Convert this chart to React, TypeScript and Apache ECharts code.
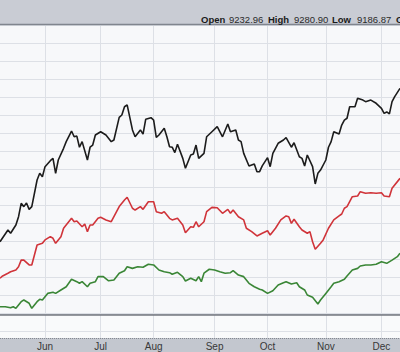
import React, { useEffect, useRef } from "react";
import * as echarts from "echarts";

// Trading-day index of each month start (x axis spans trading days 0..151)
const monthDays = [17, 38, 58, 81, 101, 123, 144];
const monthLabels = ["Jun", "Jul", "Aug", "Sep", "Oct", "Nov", "Dec"];

// Header quote
const quoteLabels = ["Open", "High", "Low", "C"];
const quoteValues = ["9232.96", "9280.90", "9186.87", ""];

// Series (values in gridline units)
const blackDays = [0, 3, 4, 6, 7, 8, 9, 10, 11, 12, 14, 15, 16, 17, 19, 20, 21, 22, 24, 25, 27, 28, 29, 30, 31, 33, 34, 35, 36, 38, 40, 42, 43, 45, 46, 47, 48, 50, 51, 53, 54, 55, 57, 58, 59, 60, 62, 63, 64, 65, 66, 67, 69, 70, 72, 73, 74, 75, 77, 78, 80, 82, 84, 86, 87, 89, 90, 91, 92, 94, 96, 97, 98, 99, 101, 102, 103, 105, 107, 108, 110, 111, 113, 114, 115, 116, 118, 119, 120, 121, 123, 124, 125, 126, 128, 129, 130, 131, 132, 134, 135, 137, 138, 140, 142, 144, 145, 146, 147, 148, 149, 151];
const blackValues = [3.96, 4.61, 4.43, 4.89, 5.35, 6.09, 5.91, 6.11, 5.76, 5.91, 7.39, 7.76, 7.57, 8.13, 8.46, 8.59, 7.76, 8.5, 9.15, 9.52, 10.11, 9.79, 9.83, 9.21, 9.52, 8.5, 9.21, 9.33, 9.89, 10.07, 9.89, 9.52, 9.61, 10.87, 11.0, 11.46, 11.56, 10.17, 9.79, 10.17, 9.94, 10.76, 10.85, 10.72, 9.76, 9.89, 10.26, 9.79, 9.24, 9.21, 8.91, 9.37, 8.59, 8.04, 8.78, 8.83, 9.33, 8.59, 8.87, 9.79, 10.07, 10.35, 9.79, 10.5, 10.07, 10.17, 9.61, 9.52, 8.87, 8.17, 8.28, 7.85, 7.85, 8.17, 8.63, 8.13, 8.87, 9.43, 9.61, 9.74, 9.21, 9.46, 8.68, 8.59, 8.17, 8.78, 8.13, 7.17, 7.76, 7.94, 8.5, 9.21, 9.52, 10.07, 9.94, 10.44, 10.72, 10.82, 11.46, 11.46, 11.93, 11.83, 11.74, 11.83, 11.65, 11.37, 11.09, 11.17, 11.06, 11.74, 12.02, 12.48];

const redDays = [0, 1, 3, 4, 6, 7, 8, 9, 11, 12, 14, 16, 17, 19, 20, 21, 23, 24, 27, 28, 29, 31, 32, 33, 34, 35, 37, 38, 40, 42, 44, 45, 47, 48, 50, 51, 53, 54, 56, 58, 59, 61, 62, 64, 65, 67, 69, 70, 72, 73, 74, 75, 77, 78, 80, 82, 84, 86, 87, 88, 90, 92, 93, 95, 97, 99, 101, 102, 104, 106, 108, 109, 110, 111, 113, 114, 116, 117, 118, 119, 121, 122, 124, 126, 128, 129, 130, 131, 133, 135, 136, 138, 140, 142, 144, 145, 147, 148, 151];
const redValues = [1.93, 2.06, 2.21, 2.29, 2.39, 2.57, 2.94, 2.94, 2.67, 2.67, 3.78, 3.87, 4.06, 4.24, 4.15, 3.87, 4.24, 4.71, 5.26, 5.07, 5.11, 4.79, 4.94, 4.52, 4.89, 4.89, 5.26, 5.32, 5.17, 5.07, 5.63, 5.91, 6.28, 6.43, 5.82, 5.72, 5.91, 5.76, 6.18, 6.18, 5.63, 5.54, 5.63, 5.26, 5.17, 5.26, 4.89, 4.46, 4.79, 4.76, 5.07, 4.79, 5.07, 5.63, 5.87, 5.85, 5.54, 5.76, 5.54, 5.72, 5.35, 5.17, 4.71, 4.52, 4.28, 4.43, 4.57, 4.33, 4.71, 5.17, 5.39, 5.35, 4.98, 5.21, 4.79, 4.61, 4.43, 4.52, 3.96, 3.54, 3.87, 4.06, 4.71, 5.17, 5.39, 5.5, 5.82, 5.91, 6.46, 6.5, 6.74, 6.65, 6.68, 6.65, 6.68, 6.5, 6.46, 6.93, 7.48];

const greenDays = [0, 2, 4, 5, 6, 8, 9, 11, 12, 14, 15, 16, 18, 20, 21, 23, 25, 27, 29, 30, 31, 33, 34, 36, 37, 39, 41, 43, 45, 47, 48, 50, 52, 54, 56, 58, 60, 62, 64, 65, 67, 69, 70, 72, 74, 75, 76, 77, 79, 81, 83, 85, 87, 88, 90, 92, 94, 96, 98, 99, 101, 103, 105, 107, 108, 110, 112, 113, 115, 116, 118, 120, 121, 123, 125, 126, 128, 130, 131, 133, 135, 136, 138, 140, 142, 144, 146, 148, 150, 151];
const greenValues = [0.35, 0.35, 0.29, 0.35, 0.26, 0.63, 0.72, 0.54, 0.26, 0.63, 0.76, 0.72, 1.09, 1.15, 1.09, 1.28, 1.46, 1.87, 1.74, 1.65, 1.74, 1.46, 1.65, 1.74, 2.02, 2.02, 1.79, 1.83, 2.21, 2.35, 2.57, 2.48, 2.57, 2.54, 2.71, 2.67, 2.39, 2.29, 2.24, 2.15, 2.26, 2.02, 1.78, 1.93, 1.79, 2.02, 1.74, 2.21, 2.43, 2.39, 2.29, 2.21, 2.24, 2.35, 2.11, 2.02, 1.65, 1.46, 1.32, 1.28, 1.09, 1.24, 1.56, 1.68, 1.74, 1.61, 1.68, 1.46, 1.28, 1.0, 0.87, 0.5, 0.72, 1.09, 1.46, 1.65, 1.74, 1.87, 2.06, 2.39, 2.48, 2.61, 2.67, 2.67, 2.71, 2.85, 2.76, 2.94, 3.13, 3.32];

const pair = (days: number[], vals: number[]) => days.map((d, i) => [d, vals[i]]);

const GRID_COLOR = "#dde0e6";
const FONT = "Liberation Sans, Arial, sans-serif";

export default function App() {
  const ref = useRef<HTMLDivElement>(null);

  useEffect(() => {
    if (!ref.current) return;
    const chart = echarts.init(ref.current, undefined, { renderer: "svg" });

    const quoteX = [201, 268, 332, 396];
    const valueX = [229, 294, 357, 0];
    const headerTexts: any[] = [];
    quoteLabels.forEach((l, i) => {
      headerTexts.push({
        type: "text",
        x: quoteX[i],
        y: 19,
        z: 20,
        style: { text: l, font: `bold 9.5px ${FONT}`, fill: "#1a1a1a", textVerticalAlign: "middle" },
      });
      if (quoteValues[i]) {
        headerTexts.push({
          type: "text",
          x: valueX[i],
          y: 19,
          z: 20,
          style: { text: quoteValues[i], font: `9.5px ${FONT}`, fill: "#2a2a2a", textVerticalAlign: "middle" },
        });
      }
    });

    const line = (name: string, days: number[], vals: number[], color: string) => ({
      name,
      type: "line",
      xAxisIndex: 0,
      yAxisIndex: 0,
      data: pair(days, vals),
      showSymbol: false,
      symbol: "none",
      lineStyle: { color, width: 1.6 },
      z: 5,
    });

    chart.setOption({
      animation: false,
      backgroundColor: "#c3c7cf",
      grid: [
        { left: 0, right: 0, top: 25, height: 288, show: true, backgroundColor: "#f7f8fa", borderWidth: 0 },
        { left: 0, right: 0, top: 315, height: 23, show: true, backgroundColor: "#f9fafb", borderWidth: 0 },
      ],
      xAxis: [
        {
          type: "value",
          gridIndex: 0,
          min: 0,
          max: 151,
          axisLine: { show: false },
          axisTick: { show: false, customValues: monthDays },
          axisLabel: { show: false, customValues: monthDays },
          splitLine: { show: true, lineStyle: { color: GRID_COLOR, width: 1 } },
        },
        {
          type: "value",
          gridIndex: 1,
          min: 0,
          max: 151,
          axisLine: { show: false },
          axisTick: { show: false, customValues: monthDays },
          axisLabel: {
            show: true,
            customValues: monthDays,
            formatter: (v: number) => monthLabels[monthDays.indexOf(v)] ?? "",
            color: "#383838",
            fontSize: 10,
            fontFamily: FONT,
            margin: 3,
          },
          splitLine: { show: true, lineStyle: { color: GRID_COLOR, width: 1 } },
        },
      ],
      yAxis: [
        {
          type: "value",
          gridIndex: 0,
          min: 0,
          max: 16,
          interval: 1,
          axisLine: { show: false },
          axisTick: { show: false },
          axisLabel: { show: false },
          splitLine: { show: true, lineStyle: { color: GRID_COLOR, width: 1 } },
        },
        {
          type: "value",
          gridIndex: 1,
          min: 0,
          max: 1,
          axisLine: { show: false },
          axisTick: { show: false },
          axisLabel: { show: false },
          splitLine: { show: false },
        },
      ],
      series: [
        line("Black", blackDays, blackValues, "#1c1c1c"),
        line("Red", redDays, redValues, "#d0343a"),
        line("Green", greenDays, greenValues, "#3a8636"),
      ],
      graphic: [
        {
          type: "rect",
          shape: { x: 0, y: 0, width: 400, height: 25 },
          style: { fill: "#c9ccd4" },
          z: 10,
        },
        {
          type: "line",
          shape: { x1: 0, y1: 24.5, x2: 400, y2: 24.5 },
          style: { stroke: "#80858e", lineWidth: 1.5 },
          z: 11,
        },
        {
          type: "line",
          shape: { x1: 0, y1: 315, x2: 400, y2: 315 },
          style: { stroke: "#73777f", lineWidth: 1.5 },
          z: 11,
        },
        {
          type: "line",
          shape: { x1: 0, y1: 331.5, x2: 400, y2: 331.5 },
          style: { stroke: GRID_COLOR, lineWidth: 1 },
          z: 12,
        },
        {
          type: "line",
          shape: { x1: 0, y1: 338.5, x2: 400, y2: 338.5 },
          style: { stroke: "#858991", lineWidth: 1, lineDash: [1, 1] },
          z: 11,
        },
        ...headerTexts,
      ],
    });

    return () => chart.dispose();
  }, []);

  return (
    <div
      ref={ref}
      style={{ position: "fixed", left: 0, top: 0, width: 400, height: 352 }}
    />
  );
}
